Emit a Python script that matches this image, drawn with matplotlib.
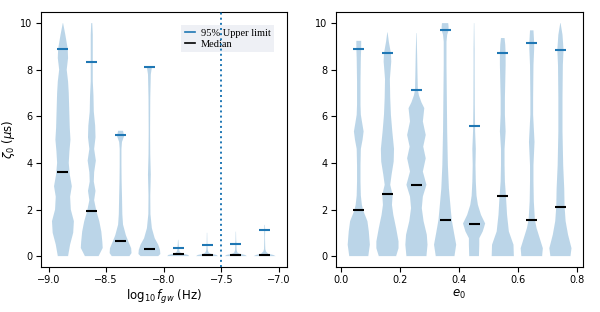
import matplotlib
matplotlib.use("Agg")
import matplotlib.pyplot as plt
from matplotlib.lines import Line2D

# ---------------------------------------------------------------------------
# Data (violin profiles: y level -> relative width)
# ---------------------------------------------------------------------------

# left panel: log10 f_gw bins
fgw_pos = [-8.875, -8.625, -8.375, -8.125, -7.875, -7.625, -7.375, -7.125]
fgw_median = [3.6, 1.93, 0.64, 0.31, 0.10, 0.06, 0.06, 0.05]
fgw_upper = [8.9, 8.34, 5.18, 8.11, 0.35, 0.46, 0.50, 1.14]

fgw_prof_y = [
    [0, 0.5, 1.0, 1.5, 2.0, 2.55, 3.0, 3.5, 4.0, 4.5, 5.0, 5.5, 6.0, 6.5,
     7.0, 7.5, 8.0, 8.5, 8.9, 9.5, 10.0],
    [0, 0.35, 0.6, 1.05, 1.5, 1.9, 2.4, 2.8, 3.2, 3.6, 4.1, 4.6, 5.1, 5.6,
     6.2, 6.9, 7.5, 8.4, 9.5, 10.0],
    [0, 0.13, 0.34, 0.63, 0.9, 1.35, 1.8, 2.6, 3.2, 3.9, 4.6, 4.9, 5.15, 5.38],
    [0, 0.09, 0.27, 0.49, 0.77, 1.2, 1.8, 2.6, 3.5, 4.35, 5.35, 6.8, 7.8, 8.0, 8.15],
    [0, 0.05, 0.1, 0.15, 0.2, 0.3, 0.4, 0.5, 0.7],
    [0, 0.05, 0.1, 0.15, 0.25, 0.4, 0.6, 0.8, 1.0],
    [0, 0.05, 0.1, 0.15, 0.25, 0.4, 0.55, 0.7, 1.05],
    [0, 0.05, 0.1, 0.2, 0.3, 0.5, 0.8, 1.1, 1.34],
]
fgw_prof_w = [
    [30, 42, 60, 64, 46, 42, 52, 40, 34, 38, 44, 40, 38, 36, 34, 30, 22, 30, 28, 14, 1],
    [40, 64, 62, 56, 44, 28, 14, 22, 12, 14, 24, 14, 22, 20, 12, 10, 6, 6, 6, 3],
    [50, 62, 60, 44, 30, 14, 10, 8, 6, 5, 5, 8, 20, 14],
    [50, 62, 60, 50, 30, 14, 6, 5, 8, 5, 4, 5, 8, 12, 16],
    [64, 58, 30, 14, 8, 5, 4, 3, 1],
    [66, 56, 24, 10, 5, 3, 2, 1.5, 1],
    [66, 56, 24, 10, 5, 4, 4, 2, 1],
    [66, 52, 22, 8, 4, 3, 2, 3, 1.5],
]

# right panel: e0 bins
e0_pos = [0.061, 0.158, 0.256, 0.353, 0.451, 0.548, 0.646, 0.743]
e0_median = [1.96, 2.66, 3.05, 1.56, 1.40, 2.56, 1.57, 2.12]
e0_upper = [8.9, 8.73, 7.15, 9.69, 5.59, 8.7, 9.16, 8.84]

e0_prof_y = [
    [0, 0.49, 1.06, 1.5, 1.95, 2.2, 2.6, 3.2, 3.9, 4.6, 5.0, 5.35, 5.7, 6.07,
     6.5, 7.5, 8.5, 8.9, 9.24],
    [0, 0.34, 0.63, 1.2, 1.77, 2.2, 2.63, 3.06, 3.5, 4.06, 4.6, 5.35, 6.07,
     6.8, 7.6, 8.35, 8.71, 9.2, 9.6],
    [0, 0.49, 0.92, 1.5, 2.06, 2.56, 3.06, 3.63, 4.2, 4.7, 5.2, 5.78, 6.35,
     6.6, 6.9, 7.14, 7.78, 8.64, 9.57],
    [0, 0.49, 1.06, 1.57, 2.06, 2.9, 3.9, 5.35, 6.8, 8.2, 9.2, 9.5, 9.69, 9.85, 10.0],
    [0, 0.49, 0.77, 1.06, 1.4, 1.77, 2.2, 2.6, 3.2, 3.9, 4.6, 5.35, 6.5, 8.2, 8.9, 10.0],
    [0, 0.49, 1.06, 1.77, 2.56, 3.2, 3.9, 4.6, 5.35, 6.07, 6.8, 7.5, 8.2, 8.7, 9.07, 9.36],
    [0, 0.34, 0.77, 1.2, 1.57, 2.35, 3.2, 3.9, 4.9, 6.07, 6.8, 8.2, 8.9, 9.16, 9.69],
    [0, 0.34, 0.92, 1.5, 2.13, 2.9, 3.9, 5.35, 6.8, 8.2, 8.85, 9.5, 10.0],
]
e0_prof_w = [
    [55, 64, 58, 50, 26, 18, 12, 10, 10, 12, 22, 28, 20, 12, 10, 10, 12, 14, 14],
    [50, 64, 64, 50, 34, 26, 30, 16, 24, 36, 38, 28, 20, 16, 14, 22, 20, 8, 1],
    [56, 62, 58, 40, 30, 36, 56, 36, 52, 38, 52, 36, 44, 28, 14, 8, 6, 4, 1],
    [54, 64, 50, 38, 32, 22, 16, 12, 10, 8, 8, 12, 20, 20, 18],
    [28, 30, 30, 50, 64, 40, 22, 14, 10, 8, 10, 6, 4, 3, 3, 1],
    [62, 60, 34, 24, 18, 12, 10, 10, 16, 12, 12, 14, 16, 16, 14, 10],
    [60, 64, 46, 28, 18, 12, 10, 10, 16, 8, 8, 10, 14, 14, 10],
    [58, 64, 44, 30, 24, 22, 16, 12, 12, 14, 18, 12, 1],
]

UL_COLOR = "#1f77b4"


def draw_panel(ax, pos, prof_y, prof_w, med, upper, width):
    stats = []
    for ys, ws, m in zip(prof_y, prof_w, med):
        stats.append(dict(coords=ys, vals=ws, mean=m, median=m,
                          min=ys[0], max=ys[-1]))
    ax.violin(stats, positions=pos, widths=width,
              showmeans=False, showextrema=False, showmedians=False)
    lo = [p - 0.25 * width for p in pos]
    hi = [p + 0.25 * width for p in pos]
    ax.hlines(upper, lo, hi, color=UL_COLOR, lw=1.5, zorder=3)
    ax.hlines(med, lo, hi, color="k", lw=1.5, zorder=3)
    ax.set_ylim(-0.47, 10.47)
    ax.set_yticks([0, 2, 4, 6, 8, 10])
    ax.tick_params(labelsize=7, pad=2.5)


fig = plt.figure(figsize=(6.0, 3.12), dpi=100)
ax1 = fig.add_axes([0.068, 0.144, 0.410, 0.817])
ax2 = fig.add_axes([0.560, 0.144, 0.411, 0.817])

draw_panel(ax1, fgw_pos, fgw_prof_y, fgw_prof_w, fgw_median, fgw_upper, 0.19)
ax1.axvline(-7.5, color=UL_COLOR, ls=":", lw=1.4, zorder=6)
ax1.set_xlim(-9.067, -6.933)
ax1.set_xticks([-9.0, -8.5, -8.0, -7.5, -7.0])
ax1.set_xlabel(r"$\log_{10} f_{gw}$ (Hz)", fontsize=8.5, labelpad=2)
ax1.set_ylabel(r"$\zeta_0$ ($\mu$s)", fontsize=8.5, labelpad=2)

handles = [Line2D([], [], color=UL_COLOR, lw=1.2),
           Line2D([], [], color="k", lw=1.2)]
ax1.legend(handles, ["95% Upper limit", "Median"], loc="upper right",
           bbox_to_anchor=(0.97, 0.97), prop=dict(family="Liberation Serif", size=7.5),
           handlelength=1.0, handletextpad=0.5, labelspacing=0.15,
           borderpad=0.35, facecolor="#eef0f5", edgecolor="none",
           framealpha=1.0, fancybox=False)

draw_panel(ax2, e0_pos, e0_prof_y, e0_prof_w, e0_median, e0_upper, 0.075)
ax2.set_xlim(-0.016, 0.818)
ax2.set_xticks([0.0, 0.2, 0.4, 0.6, 0.8])
ax2.set_xlabel(r"$e_0$", fontsize=8.5, labelpad=2)

fig.savefig("out.png", dpi=100)
